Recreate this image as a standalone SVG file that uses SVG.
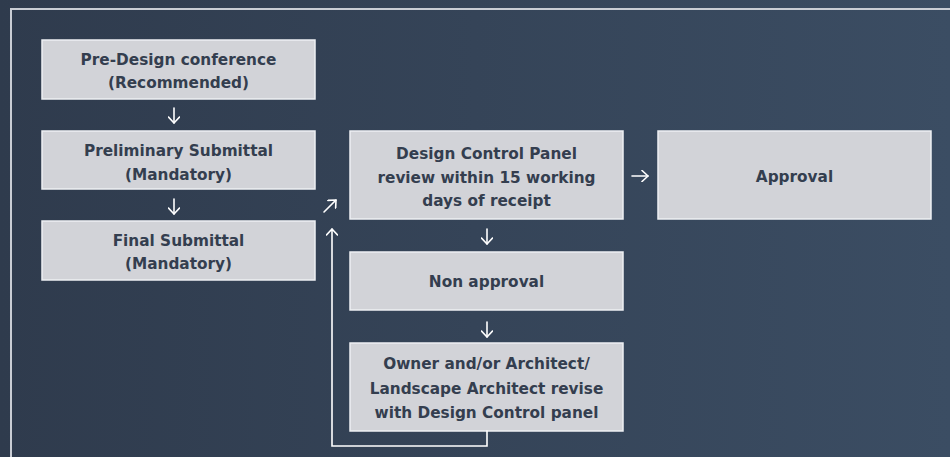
<svg xmlns="http://www.w3.org/2000/svg" width="950" height="457" viewBox="0 0 950 457">
  <defs>
    <linearGradient id="bg" x1="0" y1="0" x2="1" y2="0">
      <stop offset="0" stop-color="#2f3b4d"/>
      <stop offset="1" stop-color="#3b4d63"/>
    </linearGradient>
    <marker id="head" viewBox="0 0 12 12" refX="11" refY="6" markerWidth="12" markerHeight="12" markerUnits="userSpaceOnUse" orient="auto">
      <path d="M5,0.5 L11,6 L5,11.5" fill="none" stroke="#ffffff" stroke-width="1.6" stroke-linecap="round" stroke-linejoin="round"/>
    </marker>
    <style>
      .box { fill: #d2d3d8; stroke: #eef0f3; stroke-width: 1.5; }
      .lbl { font-family: "DejaVu Sans", "Liberation Sans", sans-serif; font-weight: bold; font-size: 15.3px; fill: #343e4f; text-anchor: middle; }
      .arr { fill: none; stroke: #ffffff; stroke-width: 1.6; stroke-linecap: round; marker-end: url(#head); }
      .frame { fill: none; stroke: #c9cdd4; stroke-width: 2; }
    </style>
  </defs>
  <rect x="0" y="0" width="950" height="457" fill="url(#bg)"/>
  <path class="frame" d="M11,460 L11,9 L955,9"/>

  <g id="pre-design">
    <rect class="box" x="42" y="40" width="273" height="59"/>
    <text class="lbl" x="178.5" y="64.5">Pre-Design conference</text>
    <text class="lbl" x="178.5" y="87.5">(Recommended)</text>
  </g>
  <g id="preliminary">
    <rect class="box" x="42" y="131" width="273" height="58"/>
    <text class="lbl" x="178.5" y="155.5">Preliminary Submittal</text>
    <text class="lbl" x="178.5" y="179.5">(Mandatory)</text>
  </g>
  <g id="final">
    <rect class="box" x="42" y="221" width="273" height="59"/>
    <text class="lbl" x="178.5" y="245.5">Final Submittal</text>
    <text class="lbl" x="178.5" y="268.5">(Mandatory)</text>
  </g>
  <g id="review">
    <rect class="box" x="350" y="131" width="273" height="88"/>
    <text class="lbl" x="486.5" y="158.5">Design Control Panel</text>
    <text class="lbl" x="486.5" y="182.5">review within 15 working</text>
    <text class="lbl" x="486.5" y="205.5">days of receipt</text>
  </g>
  <g id="approval">
    <rect class="box" x="658" y="131" width="273" height="88"/>
    <text class="lbl" x="794.5" y="181.5">Approval</text>
  </g>
  <g id="non-approval">
    <rect class="box" x="350" y="252" width="273" height="58"/>
    <text class="lbl" x="486.5" y="286.5">Non approval</text>
  </g>
  <g id="revise">
    <rect class="box" x="350" y="343" width="273" height="88"/>
    <text class="lbl" x="486.5" y="368.5">Owner and/or Architect/</text>
    <text class="lbl" x="486.5" y="393.5">Landscape Architect revise</text>
    <text class="lbl" x="486.5" y="417.5">with Design Control panel</text>
  </g>

  <g id="connectors">
    <path class="arr" d="M174,108 L174,123"/>
    <path class="arr" d="M174,199 L174,214"/>
    <path class="arr" d="M632,176 L648,176"/>
    <path class="arr" d="M324,212 L336,200"/>
    <path class="arr" d="M487,229 L487,244"/>
    <path class="arr" d="M487,322 L487,337"/>
    <path class="arr" d="M487,431 L487,446 L332,446 L332,229"/>
  </g>
</svg>
